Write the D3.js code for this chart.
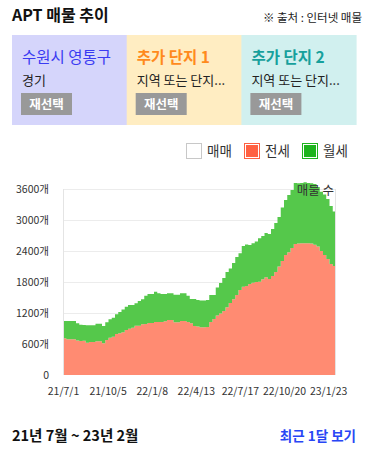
<!DOCTYPE html>
<meta charset="utf-8">
<style>
body { margin: 0; background: #fff; }
svg text { font-family: "Noto Sans CJK KR", "Noto Sans", sans-serif; }
.grid line { stroke: #ececec; stroke-width: 1px; }
.tick text { fill: #333; font-size: 10.5px; }
</style>
<body>
<svg id="chart" width="368" height="449"></svg>
<script src="https://cdnjs.cloudflare.com/ajax/libs/d3/7.8.5/d3.min.js"></script>
<script>
// weekly points from 2021-07-01
var startDate = new Date(2021, 6, 1);
var jeonse = [710,691,691,691,668,658,664,625,639,639,652,652,614,677,722,741,794,807,826,871,
  896,915,954,954,981,987,1006,1006,1026,1026,1026,1039,1065,1065,1020,1020,1045,1045,1026,1001,
  948,939,923,923,927,1026,1084,1152,1190,1239,1310,1394,1465,1548,1645,1709,1723,1761,1786,1800,
  1806,1852,1891,1858,1916,1994,2100,2206,2323,2375,2458,2535,2543,2549,2549,2549,2545,2522,2487,2400,
  2323,2245,2148,2110,2052];
var wolse = [335,354,354,354,332,316,304,337,323,323,341,341,334,343,356,368,381,412,442,451,
  459,440,434,478,484,548,562,562,586,555,542,529,516,516,534,534,536,536,509,470,
  523,513,519,519,525,522,464,542,591,638,684,667,703,736,710,788,803,755,763,784,
  840,838,857,871,910,948,958,1036,1064,1109,1122,1181,1167,1167,1181,1167,1165,1175,1152,1148,
  1171,1162,1123,1055,1025];
var yTicks = [0, 600, 1200, 1800, 2400, 3000, 3600];
var xTickDates = ["2021-07-01","2021-10-05","2022-01-08","2022-04-13","2022-07-17","2022-10-20","2023-01-23"];
var seriesNames = ["매매", "전세", "월세"];
var panelTitles = ["수원시 영통구", "추가 단지 1", "추가 단지 2"];
var panelSubs = ["경기", "지역 또는 단지...", "지역 또는 단지..."];

var data = jeonse.map(function(v, i) {
  var d = new Date(startDate);
  d.setDate(d.getDate() + 7 * i);
  return { date: d, "매매": 0, "전세": v, "월세": wolse[i] };
});

var svg = d3.select("#chart");

// header
svg.append("text").attr("x", 12).attr("y", 21)
  .attr("font-size", 16).attr("font-weight", "bold").attr("fill", "#111").text("APT 매물 추이");
svg.append("text").attr("x", 362).attr("y", 22).attr("text-anchor", "end")
  .attr("font-size", 11.5).attr("fill", "#222").text("※ 출처 : 인터넷 매물");

// selection panels
var panelColors = ["#d5d5fb", "#ffedc2", "#d1f0ef"];
var titleColors = ["#3a3af2", "#ff8a1c", "#17a09c"];
var pw = 114.7;
panelTitles.forEach(function(t, i) {
  var x0 = 12 + i * pw;
  svg.append("rect").attr("x", x0).attr("y", 35).attr("width", pw + 0.5).attr("height", 90)
    .attr("fill", panelColors[i]);
  svg.append("text").attr("x", x0 + 10).attr("y", 63).attr("font-size", 15.5)
    .attr("fill", titleColors[i]).attr("font-weight", i > 0 ? "bold" : "normal").text(t);
  svg.append("text").attr("x", x0 + 10).attr("y", 85).attr("font-size", 13)
    .attr("fill", "#222").text(panelSubs[i]);
  svg.append("rect").attr("x", x0 + 9).attr("y", 93).attr("width", 51).attr("height", 22)
    .attr("fill", "#999");
  svg.append("text").attr("x", x0 + 34.5).attr("y", 109).attr("text-anchor", "middle")
    .attr("font-size", 12.5).attr("font-weight", "bold").attr("fill", "#fff").text("재선택");
});

// legend
var legendFill = ["#fff", "#ff6142", "#1db41d"];
var legendStroke = ["#c8c8c8", "#ff6142", "#1db41d"];
var legendX = [186, 244, 302];
seriesNames.forEach(function(s, i) {
  svg.append("rect").attr("x", legendX[i] + 0.5).attr("y", 143.5).attr("width", 15).attr("height", 15)
    .attr("fill", legendFill[i]).attr("stroke", legendStroke[i]).attr("stroke-width", 1);
  if (i > 0) {
    svg.append("rect").attr("x", legendX[i] + 1.5).attr("y", 144.5).attr("width", 13).attr("height", 13)
      .attr("fill", "none").attr("stroke", "#fff").attr("stroke-width", 1);
  }
  svg.append("text").attr("x", legendX[i] + 21).attr("y", 156).attr("font-size", 13.5)
    .attr("fill", "#333").text(s);
});

// chart area
var plotL = 63, plotR = 336, plotT = 189, plotB = 375;
var x = d3.scaleTime().domain(d3.extent(data, function(d) { return d.date; })).range([plotL, plotR]);
var y = d3.scaleLinear().domain([0, 3600]).range([plotB, plotT]);

var parse = d3.timeParse("%Y-%m-%d");
var fmt = function(d) { return (d.getFullYear() % 100) + "/" + (d.getMonth() + 1) + "/" + d.getDate(); };

svg.append("g").attr("class", "grid")
  .selectAll("line").data(yTicks.slice(1)).enter().append("line")
  .attr("x1", plotL).attr("x2", plotR)
  .attr("y1", function(d) { return y(d) + 0.5; }).attr("y2", function(d) { return y(d) + 0.5; });

var stack = d3.stack().keys(["전세", "월세"]);
var layers = stack(data);
var areaColors = ["#ff8b72", "#55c84b"];
var area = d3.area()
  .x(function(d) { return x(d.data.date); })
  .y0(function(d) { return y(d[0]); })
  .y1(function(d) { return y(d[1]); })
  .curve(d3.curveStepAfter);

svg.append("g").selectAll("path").data(layers).enter().append("path")
  .attr("d", area).attr("fill", function(d, i) { return areaColors[i]; });

// plot borders
svg.append("line").attr("x1", plotL + 0.5).attr("x2", plotL + 0.5).attr("y1", plotT).attr("y2", plotB)
  .attr("stroke", "#e4e4e4");
svg.append("line").attr("x1", plotR - 0.5).attr("x2", plotR - 0.5).attr("y1", plotT).attr("y2", plotB)
  .attr("stroke", "#e4e4e4");

// axes
var yAxis = d3.axisLeft(y).tickValues(yTicks).tickSize(0).tickPadding(14)
  .tickFormat(function(d) { return d === 0 ? "0" : d + "개"; });
svg.append("g").attr("transform", "translate(" + plotL + ",0)").call(yAxis)
  .call(function(g) { g.select(".domain").remove(); });

var xAxis = d3.axisBottom(x).tickValues(xTickDates.map(parse)).tickSize(0).tickPadding(13)
  .tickFormat(fmt);
svg.append("g").attr("transform", "translate(0," + plotB + ")").call(xAxis)
  .call(function(g) { g.select(".domain").remove(); });

svg.append("text").attr("x", 334).attr("y", 195).attr("text-anchor", "end")
  .attr("font-size", 12.5).attr("fill", "#333").text("매물 수");

// footer
svg.append("text").attr("x", 12).attr("y", 441).attr("font-size", 14.5).attr("font-weight", "bold")
  .attr("fill", "#111").text("21년 7월 ~ 23년 2월");
svg.append("text").attr("x", 356).attr("y", 441).attr("text-anchor", "end").attr("font-size", 13.5)
  .attr("font-weight", "bold").attr("fill", "#2846f5").text("최근 1달 보기");
</script>
</body>
